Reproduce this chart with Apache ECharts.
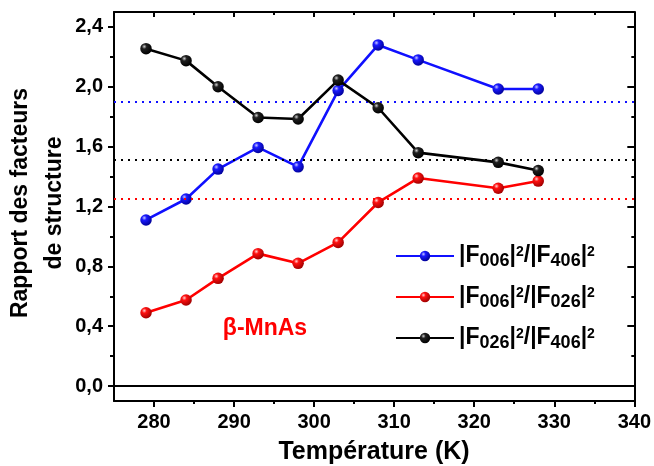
<!DOCTYPE html>
<html>
<head>
<meta charset="utf-8">
<script src="https://cdn.jsdelivr.net/npm/echarts@6/dist/echarts.min.js"></script>
<style>html,body{margin:0;padding:0;background:#fff;}#c{width:654px;height:466px;}</style>
</head>
<body>
<div id="c"></div>
<script>
var temperatures = [279, 284, 288, 293, 298, 303, 308, 313, 323, 328];
var ratio006_406 = [1.11, 1.25, 1.45, 1.595, 1.465, 1.975, 2.28, 2.18, 1.985, 1.985];
var ratio006_026 = [0.49, 0.575, 0.72, 0.885, 0.82, 0.96, 1.227, 1.39, 1.322, 1.37];
var ratio026_406 = [2.255, 2.175, 2.0, 1.795, 1.785, 2.045, 1.86, 1.56, 1.495, 1.44];
var refLevels = [1.90, 1.25, 1.51];
var xMajorTicks = [280, 290, 300, 310, 320, 330, 340];
var xMinorTicks = [285, 295, 305, 315, 325, 335];
var yMajorTicks = [0, 0.4, 0.8, 1.2, 1.6, 2.0, 2.4];
var yMinorTicks = [0.2, 0.6, 1.0, 1.4, 1.8, 2.2];
var seriesNames = ['|F006|²/|F406|²', '|F006|²/|F026|²', '|F026|²/|F406|²'];
var legendRich = [
  '{n||F}{sub|006}{n||}{sup|2}{n|/|F}{sub|406}{n||}{sup|2}',
  '{n||F}{sub|006}{n||}{sup|2}{n|/|F}{sub|026}{n||}{sup|2}',
  '{n||F}{sub|026}{n||}{sup|2}{n|/|F}{sub|406}{n||}{sup|2}'
];

var FONT = '"Liberation Sans", Arial, sans-serif';
var chart = echarts.init(document.getElementById('c'), null, {renderer: 'canvas'});

function ball(base, dark, hl) {
  return new echarts.graphic.RadialGradient(0.35, 0.32, 0.7, [
    {offset: 0, color: hl},
    {offset: 0.3, color: base},
    {offset: 1, color: dark}
  ]);
}
function pairs(ys) { return temperatures.map(function (t, i) { return [t, ys[i]]; }); }

var XMIN = 275, XMAX = 340, YMIN = -0.1, YMAX = 2.5;
function xAx(pos, ticks, len, inside, labels, line) {
  return {
    type: 'value', min: XMIN, max: XMAX, position: pos, gridIndex: 0,
    axisLine: {show: line, onZero: false, lineStyle: {color: '#000', width: 2}},
    axisTick: {show: true, inside: inside, length: len, customValues: ticks, lineStyle: {color: '#000', width: 2}},
    axisLabel: labels ? {show: true, customValues: ticks, color: '#000', fontSize: 20, fontWeight: 'bold', fontFamily: FONT, margin: 11} : {show: false},
    splitLine: {show: false}
  };
}
function yAx(pos, ticks, len, inside, labels, line) {
  return {
    type: 'value', min: YMIN, max: YMAX, position: pos, gridIndex: 0,
    axisLine: {show: line, onZero: false, lineStyle: {color: '#000', width: 2}},
    axisTick: {show: true, inside: inside, length: len, customValues: ticks, lineStyle: {color: '#000', width: 2}},
    axisLabel: labels ? {show: true, customValues: ticks, color: '#000', fontSize: 20, fontWeight: 'bold', fontFamily: FONT, margin: 11,
      formatter: function (v) { return v.toFixed(1).replace('.', ','); }} : {show: false},
    splitLine: {show: false}
  };
}

var colors = [
  {line: '#1010ff', item: ball('#1a1aff', '#00009a', '#c8c8ff')},
  {line: '#ff0000', item: ball('#ff1010', '#a00000', '#ffd0d0')},
  {line: '#000000', item: ball('#202020', '#000000', '#d0d0d0')}
];
var dataSets = [ratio006_406, ratio006_026, ratio026_406];

var series = dataSets.map(function (ys, k) {
  var s = {
    name: seriesNames[k], type: 'line', xAxisIndex: 0, yAxisIndex: 0,
    data: pairs(ys), symbol: 'circle', symbolSize: 11.5, showSymbol: true,
    lineStyle: {color: colors[k].line, width: 2.6},
    itemStyle: {color: colors[k].item, borderWidth: 0},
    z: 3 + k,
    markLine: {
      silent: true, symbol: 'none', label: {show: false},
      lineStyle: {color: colors[k].line, width: 2, type: [2, 5]},
      data: [{yAxis: refLevels[k]}]
    }
  };
  if (k === 2) {
    s.markLine.data = [
      {yAxis: refLevels[k]},
      {yAxis: 0, lineStyle: {type: 'solid', color: '#000', width: 2}}
    ];
  }
  return s;
});

var option = {
  backgroundColor: '#fff',
  animation: false,
  grid: {left: 114, top: 12, right: 19, bottom: 65, containLabel: false},
  xAxis: [
    xAx('bottom', xMajorTicks, 6, false, true, true),
    xAx('bottom', xMinorTicks, 3, false, false, false),
    xAx('top', xMajorTicks, 5, true, false, true),
    xAx('top', xMinorTicks, 3, true, false, false)
  ],
  yAxis: [
    yAx('left', yMajorTicks, 6, false, true, true),
    yAx('left', yMinorTicks, 4, false, false, false),
    yAx('right', yMajorTicks, 7, true, false, true),
    yAx('right', yMinorTicks, 3, true, false, false)
  ],
  legend: {
    orient: 'vertical', left: 390, top: 237, itemWidth: 58, itemHeight: 13, itemGap: 13,
    data: seriesNames,
    formatter: function (name) { return legendRich[seriesNames.indexOf(name)]; },
    textStyle: {
      padding: [0, 0, 0, 0],
      rich: {
        n: {fontSize: 23, fontWeight: 'bold', fontFamily: FONT, color: '#000', lineHeight: 28},
        sub: {fontSize: 18, fontWeight: 'bold', fontFamily: FONT, color: '#000', lineHeight: 13, verticalAlign: 'bottom'},
        sup: {fontSize: 14, fontWeight: 'bold', fontFamily: FONT, color: '#000', lineHeight: 13, verticalAlign: 'top', padding: [3, 0, 0, 0]}
      }
    }
  },
  graphic: [
    {type: 'text', x: 38, y: 203, rotation: Math.PI / 2,
      style: {text: 'Rapport des facteurs\nde structure', align: 'center', verticalAlign: 'middle',
        font: 'bold 23px ' + FONT, lineHeight: 34, fill: '#000'}},
    {type: 'text', x: 374, y: 452,
      style: {text: 'Température (K)', align: 'center', verticalAlign: 'middle', font: 'bold 25px ' + FONT, fill: '#000'}},
    {type: 'text', x: 265, y: 329,
      style: {text: 'β-MnAs', align: 'center', verticalAlign: 'middle', font: 'bold 23px ' + FONT, fill: '#ff0000'}}
  ],
  series: series
};
chart.setOption(option);
</script>
</body>
</html>
